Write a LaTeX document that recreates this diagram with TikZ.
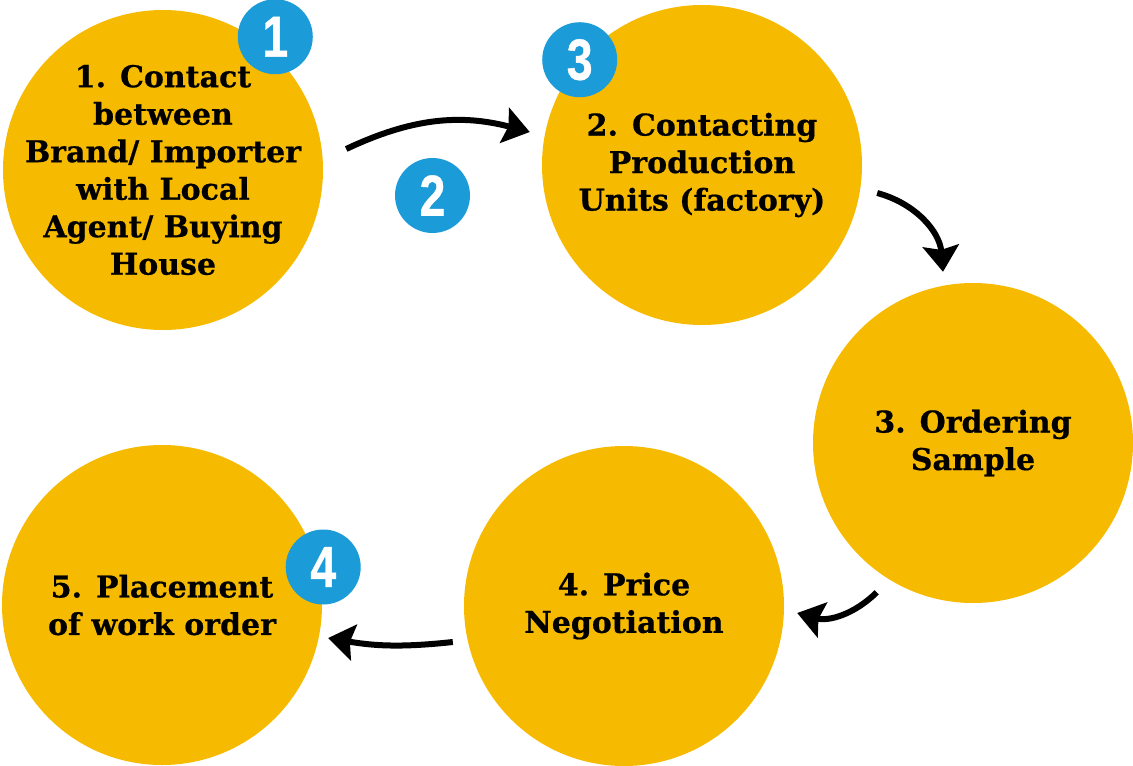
\documentclass[tikz,border=0pt]{standalone}
\usepackage{fontspec}
\setmainfont{DejaVu Serif}[FakeBold=0.6]
\newfontfamily\badgefont{Liberation Sans}[FakeBold=0.8]
\usetikzlibrary{calc}
\usetikzlibrary{positioning}
\usetikzlibrary{arrows.meta}
\definecolor{stepyellow}{RGB}{246,187,0}
\definecolor{badgeblue}{RGB}{27,155,215}
\tikzset{
  myarrow/.style={
    draw=black,
    line width=6pt,
    -{Stealth[length=26pt,width=36pt,inset=4pt]},
  },
  mycircle/.style={
    shape=circle,
    fill=stepyellow,
    minimum size=320pt,
    inner sep=0pt,
  },
  mytext/.style={
    align=center,
    inner sep=0pt,
    font=\fontsize{30}{37.5}\selectfont\bfseries,
  },
  mybadge/.style={
    shape=circle,
    fill=badgeblue,
    text=white,
    minimum size=75pt,
    inner sep=0pt,
    font=\badgefont\fontsize{58}{58}\selectfont\bfseries,
  }
}

\begin{document}
\begin{tikzpicture}[x=1pt,y=-1pt]
    \useasboundingbox (0,0) rectangle (1133,766);

    \node[mycircle] (c1) at (163,170) {};
    \node[mycircle] (c2) at (702,165) {};
    \node[mycircle] (c3) at (973,443) {};
    \node[mycircle] (c4) at (624,606) {};
    \node[mycircle] (c5) at (162,605) {};

    \node[mytext] (t1) at (c1) {1. Contact\\between\\Brand/ Importer\\with Local\\Agent/ Buying\\House};
    \node[mytext] (t2) at (c2) {2. Contacting\\Production\\Units (factory)};
    \node[mytext] (t3) at (c3) {3. Ordering\\Sample};
    \node[mytext] (t4) at (c4) {4. Price\\Negotiation};
    \node[mytext] (t5) at (c5) {5. Placement\\of work order};

    \node[mybadge] (b1) at ($(c1.north east)+(-1,-20)$)           {\scalebox{0.8}[1]{1}};
    \node[mybadge] (b2) at ($(c1.east)!0.5!(c2.west)+(0,28)$)    {\scalebox{0.8}[1]{2}};
    \node[mybadge] (b3) at ($(c2.north west)+(-9,8)$)             {\scalebox{0.8}[1]{3}};
    \node[mybadge] (b4) at ($(c5.east)+(1,-38)$)                  {\scalebox{0.8}[1]{4}};

    \draw[myarrow] ($(c1.east)+(23,-21)$)        to[bend left=20] ($(c2.west)+(-12,-33)$);
    \draw[myarrow] ($(c2.east)+(15,28)$)         to[bend left=35] ($(c3.north)+(-30,-11)$);
    \draw[myarrow] ($(c3.south west)+(17,36)$)   to[bend left=30] ($(c4.east)+(13,7)$);
    \draw[myarrow] ($(c4.west)+(-11,36)$)        to[bend left=8]  ($(c5.east)+(6,33)$);
  \end{tikzpicture}
\end{document}
